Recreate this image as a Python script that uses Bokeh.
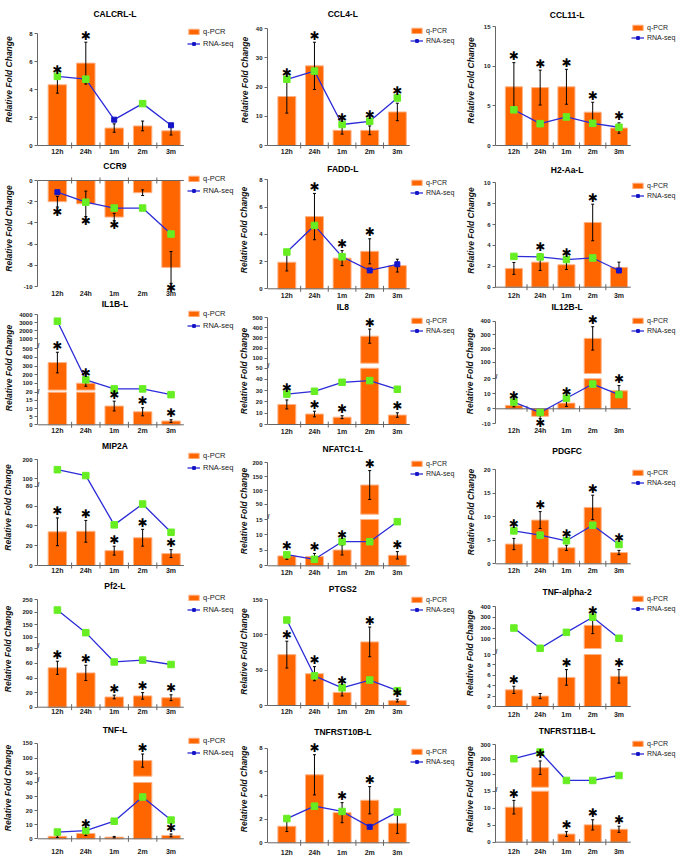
import math
from bokeh.plotting import figure
from bokeh.layouts import row, column
from bokeh.models import (Range1d, FixedTicker, Legend, LegendItem, Label, ColumnDataSource)
from bokeh.embed import file_html
from bokeh.resources import INLINE
from bokeh.core.properties import value

# ---------------- data ----------------
TIMES = ["12h", "24h", "1m", "2m", "3m"]

CALCRL_L_QPCR = [4.35, 5.9, 1.25, 1.4, 1.05]
CALCRL_L_SD = [0.6, 1.5, 0.3, 0.35, 0.3]
CALCRL_L_RNA = [4.95, 4.75, 1.85, 3.0, 1.45]
CALCRL_L_SIG = [1, 1, 0, 1, 0]
CALCRL_L_STAR = [1, 1, 0, 0, 0]
CALCRL_L_YTICKS = [0, 2, 4, 6, 8]

CCL4_L_QPCR = [16.8, 27.3, 5.2, 5.2, 11.5]
CCL4_L_SD = [5.7, 8.1, 1.3, 1.5, 3.0]
CCL4_L_RNA = [22.7, 25.5, 7.2, 8.3, 16.3]
CCL4_L_SIG = [1, 1, 1, 1, 1]
CCL4_L_STAR = [1, 1, 1, 1, 1]
CCL4_L_YTICKS = [0, 10, 20, 30, 40]

CCL11_L_QPCR = [7.4, 7.3, 7.4, 4.2, 2.2]
CCL11_L_SD = [3.05, 2.2, 2.2, 1.25, 0.65]
CCL11_L_RNA = [4.5, 2.75, 3.6, 2.8, 2.3]
CCL11_L_SIG = [1, 1, 1, 1, 1]
CCL11_L_STAR = [1, 1, 1, 1, 1]
CCL11_L_YTICKS = [0, 5, 10, 15]

CCR9_QPCR = [-2.0, -2.2, -3.45, -1.15, -8.2]
CCR9_SD = [0.5, 1.2, 0.35, 0.27, 1.5]
CCR9_RNA = [-1.1, -2.05, -2.6, -2.6, -5.05]
CCR9_SIG = [0, 1, 1, 1, 1]
CCR9_STAR = [1, 1, 1, 0, 1]
CCR9_YTICKS = [-10, -8, -6, -4, -2, 0]

FADD_L_QPCR = [1.95, 5.3, 2.25, 2.75, 1.7]
FADD_L_SD = [0.64, 1.7, 0.55, 0.92, 0.47]
FADD_L_RNA = [2.7, 4.65, 2.35, 1.35, 1.8]
FADD_L_SIG = [1, 1, 1, 0, 0]
FADD_L_STAR = [0, 1, 1, 1, 0]
FADD_L_YTICKS = [0, 2, 4, 6, 8]

H2_AA_L_QPCR = [1.8, 2.4, 2.15, 6.2, 1.9]
H2_AA_L_SD = [0.57, 0.8, 0.45, 1.75, 0.5]
H2_AA_L_RNA = [2.95, 2.9, 2.65, 2.8, 1.6]
H2_AA_L_SIG = [1, 1, 1, 1, 0]
H2_AA_L_STAR = [0, 1, 1, 1, 0]
H2_AA_L_YTICKS = [0, 2, 4, 6, 8, 10]

IL1B_L_QPCR = [340, 100, 11.5, 8.0, 2.3]
IL1B_L_SD = [120, 35, 3.0, 2.5, 0.8]
IL1B_L_RNA = [3200, 140, 34, 34, 18.5]
IL1B_L_SIG = [1, 1, 1, 1, 1]
IL1B_L_STAR = [1, 1, 1, 1, 1]
IL1B_L_YTICKS = [0, 5, 10, 15, 20, 100, 200, 300, 400, 500, 1000, 2000, 3000, 4000]

IL8_QPCR = [17.8, 9.3, 6.5, 318, 8.4]
IL8_SD = [4.0, 2.5, 1.3, 70, 2.0]
IL8_RNA = [27.0, 29.5, 37.5, 39.0, 31.3]
IL8_SIG = [1, 1, 1, 1, 1]
IL8_STAR = [1, 1, 1, 1, 1]
IL8_YTICKS = [0, 10, 20, 30, 40, 50, 100, 200, 300, 400, 500]

IL12B_L_QPCR = [2.3, -5.0, 3.8, 275, 12.0]
IL12B_L_SD = [1.0, 1.5, 2.2, 85, 3.5]
IL12B_L_RNA = [4.5, -2.5, 7.0, 16.5, 9.5]
IL12B_L_SIG = [1, 1, 1, 1, 1]
IL12B_L_STAR = [1, 1, 1, 1, 1]
IL12B_L_YTICKS = [-10, 0, 10, 20, 100, 200, 300, 400]

MIP2A_QPCR = [34, 34.5, 15, 28, 12]
MIP2A_SD = [14, 11, 4.5, 8.5, 4]
MIP2A_RNA = [148, 117, 41, 62, 33.5]
MIP2A_SIG = [1, 1, 1, 1, 1]
MIP2A_STAR = [1, 1, 1, 1, 1]
MIP2A_YTICKS = [0, 20, 40, 60, 80, 100, 200]

NFATC1_L_QPCR = [3.2, 3.0, 5.1, 120, 3.4]
NFATC1_L_SD = [1.1, 1.0, 1.6, 52, 1.2]
NFATC1_L_RNA = [3.6, 2.1, 7.8, 7.8, 14.3]
NFATC1_L_SIG = [1, 1, 1, 1, 1]
NFATC1_L_STAR = [1, 1, 1, 1, 1]
NFATC1_L_YTICKS = [0, 5, 10, 15, 50, 100, 150, 200]

PDGFC_QPCR = [4.2, 9.3, 3.4, 12.0, 2.4]
PDGFC_SD = [1.2, 1.8, 0.55, 2.6, 0.45]
PDGFC_RNA = [7.0, 6.1, 4.9, 8.2, 4.1]
PDGFC_SIG = [1, 1, 1, 1, 1]
PDGFC_STAR = [1, 1, 1, 1, 1]
PDGFC_YTICKS = [0, 5, 10, 15, 20]

PF2_L_QPCR = [54, 47, 14, 15.5, 13]
PF2_L_SD = [9, 10.5, 2.5, 4.5, 4]
PF2_L_RNA = [208, 118, 62, 64.5, 58.5]
PF2_L_SIG = [1, 1, 1, 1, 1]
PF2_L_STAR = [1, 1, 1, 1, 1]
PF2_L_YTICKS = [0, 20, 40, 60, 80, 100, 150, 200, 250]

PTGS2_QPCR = [72, 45, 18.5, 90, 7]
PTGS2_SD = [19, 10, 5, 21, 2]
PTGS2_RNA = [121, 42, 25, 36, 21]
PTGS2_SIG = [1, 1, 1, 1, 1]
PTGS2_STAR = [1, 1, 1, 1, 1]
PTGS2_YTICKS = [0, 50, 100, 150]

TNF_ALPHA_2_QPCR = [3.2, 2.0, 5.6, 225, 5.8]
TNF_ALPHA_2_SD = [0.7, 0.5, 1.5, 77, 1.3]
TNF_ALPHA_2_RNA = [200, 12, 160, 300, 105]
TNF_ALPHA_2_SIG = [1, 1, 1, 1, 1]
TNF_ALPHA_2_STAR = [1, 0, 1, 1, 1]
TNF_ALPHA_2_YTICKS = [0, 2, 4, 6, 8, 10, 100, 200, 300, 400]

TNF_L_QPCR = [1.8, 3.8, 1.2, 92, 2.4]
TNF_L_SD = [0.8, 1.5, 0.5, 22, 1.0]
TNF_L_RNA = [4.8, 5.8, 12.5, 29.7, 13.3]
TNF_L_SIG = [1, 1, 1, 1, 1]
TNF_L_STAR = [0, 1, 0, 1, 1]
TNF_L_YTICKS = [0, 10, 20, 30, 40, 50, 100, 150]

TNFRST10B_L_QPCR = [1.4, 5.75, 2.55, 3.6, 1.65]
TNFRST10B_L_SD = [0.45, 1.7, 0.85, 1.15, 0.85]
TNFRST10B_L_RNA = [2.05, 3.1, 2.65, 1.35, 2.6]
TNFRST10B_L_SIG = [1, 1, 1, 0, 1]
TNFRST10B_L_STAR = [0, 1, 1, 1, 0]
TNFRST10B_L_YTICKS = [0, 2, 4, 6, 8]

TNFRST11B_L_QPCR = [10.3, 145, 2.4, 5.1, 3.8]
TNFRST11B_L_SD = [2.0, 45, 0.7, 1.5, 0.9]
TNFRST11B_L_RNA = [205, 250, 60, 60, 93]
TNFRST11B_L_SIG = [1, 1, 1, 1, 1]
TNFRST11B_L_STAR = [1, 1, 1, 1, 1]
TNFRST11B_L_YTICKS = [0, 5, 10, 15, 100, 200, 300]

# ---------------- layout / style ----------------
ORANGE = "#FF6600"
BAR_EDGE = "#FFB488"
GREEN = "#66EE22"
BLUE_PT = "#1414C8"
LINE_BLUE = "#2B2BD8"
AXIS = "#666666"
FONT = "Liberation Sans"

COL_X = [0, 236, 462]
COL_W = [236, 226, 223]
FRAME_L = [32, 266, 494]
FRAME_R = [182, 409, 630]
YLAB_X = [6.5, 246, 472]
LEG_FONT = ["7.5px", "7px", "7px"]
BOUNDS = [[0, 158, 298, 437, 577, 720, 855],
          [0, 159, 300, 441, 580, 722, 855],
          [0, 160, 300, 441, 582, 723, 855]]
X0, X1 = 0.3, 5.45
STAR_OFF = 6.5
STAR_OFF_NEG = 4.5

# name, q-PCR, sd, RNA-seq, RNA point significant, star, y ticks,
# y segments (value0, value1, px0, px1), column, row, (title y, top tick y, bottom y, label y, legend top y)
PANELS = [
    ("CALCRL-L", CALCRL_L_QPCR, CALCRL_L_SD, CALCRL_L_RNA, CALCRL_L_SIG, CALCRL_L_STAR, CALCRL_L_YTICKS,
     [(0, 8, 0, 111.7)], 0, 0, (13, 33.3, 145, 151, 31)),
    ("CCR9", CCR9_QPCR, CCR9_SD, CCR9_RNA, CCR9_SIG, CCR9_STAR, CCR9_YTICKS,
     [(-10, 0, 0, 106)], 0, 1, (165, 180, 286, 293, 178)),
    ("IL1B-L", IL1B_L_QPCR, IL1B_L_SD, IL1B_L_RNA, IL1B_L_SIG, IL1B_L_STAR, IL1B_L_YTICKS,
     [(0, 20, 0, 32.6), (20, 500, 34.7, 76), (500, 4000, 82, 110)], 0, 2, (303, 314.3, 424.3, 430, 313)),
    ("MIP2A", MIP2A_QPCR, MIP2A_SD, MIP2A_RNA, MIP2A_SIG, MIP2A_STAR, MIP2A_YTICKS,
     [(0, 80, 0, 79.3), (80, 200, 82.9, 105.7)], 0, 3, (445, 459.3, 565, 570, 455)),
    ("Pf2-L", PF2_L_QPCR, PF2_L_SD, PF2_L_RNA, PF2_L_SIG, PF2_L_STAR, PF2_L_YTICKS,
     [(0, 80, 0, 58.4), (80, 250, 65, 107.7)], 0, 4, (585, 599, 706.7, 711, 597)),
    ("TNF-L", TNF_L_QPCR, TNF_L_SD, TNF_L_RNA, TNF_L_SIG, TNF_L_STAR, TNF_L_YTICKS,
     [(0, 40, 0, 56.3), (40, 150, 62.6, 95.6)], 0, 5, (729.3, 742.7, 838.3, 850.7, 740)),

    ("CCL4-L", CCL4_L_QPCR, CCL4_L_SD, CCL4_L_RNA, CCL4_L_SIG, CCL4_L_STAR, CCL4_L_YTICKS,
     [(0, 40, 0, 116.7)], 1, 0, (13, 28.3, 145, 151, 27)),
    ("FADD-L", FADD_L_QPCR, FADD_L_SD, FADD_L_RNA, FADD_L_SIG, FADD_L_STAR, FADD_L_YTICKS,
     [(0, 8, 0, 109)], 1, 1, (168, 179.3, 288.3, 295, 179)),
    ("IL8", IL8_QPCR, IL8_SD, IL8_RNA, IL8_SIG, IL8_STAR, IL8_YTICKS,
     [(0, 50, 0, 56.3), (50, 500, 61.3, 106.7)], 1, 2, (306, 317.3, 424, 430.7, 317)),
    ("NFATC1-L", NFATC1_L_QPCR, NFATC1_L_SD, NFATC1_L_RNA, NFATC1_L_SIG, NFATC1_L_STAR, NFATC1_L_YTICKS,
     [(0, 15, 0, 46.3), (15, 200, 51.6, 103)], 1, 3, (448.3, 462.3, 565.3, 571.7, 460)),
    ("PTGS2", PTGS2_QPCR, PTGS2_SD, PTGS2_RNA, PTGS2_SIG, PTGS2_STAR, PTGS2_YTICKS,
     [(0, 150, 0, 106)], 1, 4, (588, 599, 705, 711, 596)),
    ("TNFRST10B-L", TNFRST10B_L_QPCR, TNFRST10B_L_SD, TNFRST10B_L_RNA, TNFRST10B_L_SIG, TNFRST10B_L_STAR,
     TNFRST10B_L_YTICKS, [(0, 8, 0, 94.6)], 1, 5, (731, 747.7, 842.3, 852, 748)),

    ("CCL11-L", CCL11_L_QPCR, CCL11_L_SD, CCL11_L_RNA, CCL11_L_SIG, CCL11_L_STAR, CCL11_L_YTICKS,
     [(0, 15, 0, 119)], 2, 0, (14, 26, 145, 151, 24)),
    ("H2-Aa-L", H2_AA_L_QPCR, H2_AA_L_SD, H2_AA_L_RNA, H2_AA_L_SIG, H2_AA_L_STAR, H2_AA_L_YTICKS,
     [(0, 10, 0, 104.4)], 2, 1, (169, 182.3, 286.7, 295, 182)),
    ("IL12B-L", IL12B_L_QPCR, IL12B_L_SD, IL12B_L_RNA, IL12B_L_SIG, IL12B_L_STAR, IL12B_L_YTICKS,
     [(-10, 20, 0, 45), (20, 400, 50.3, 102.6)], 2, 2, (306, 320.7, 423.3, 430, 317)),
    ("PDGFC", PDGFC_QPCR, PDGFC_SD, PDGFC_RNA, PDGFC_SIG, PDGFC_STAR, PDGFC_YTICKS,
     [(0, 20, 0, 94)], 2, 3, (450, 469.3, 563.3, 570, 469)),
    ("TNF-alpha-2", TNF_ALPHA_2_QPCR, TNF_ALPHA_2_SD, TNF_ALPHA_2_RNA, TNF_ALPHA_2_SIG, TNF_ALPHA_2_STAR,
     TNF_ALPHA_2_YTICKS, [(0, 10, 0, 52), (10, 400, 58, 100)], 2, 4, (591.7, 606, 706, 714.3, 595)),
    ("TNFRST11B-L", TNFRST11B_L_QPCR, TNFRST11B_L_SD, TNFRST11B_L_RNA, TNFRST11B_L_SIG, TNFRST11B_L_STAR,
     TNFRST11B_L_YTICKS, [(0, 15, 0, 51), (15, 300, 55, 97.7)], 2, 5, (730, 744, 841.7, 850.7, 740)),
]


def seg_map(s, v):
    v0, v1, d0, d1 = s
    return d0 + (v - v0) * (d1 - d0) / (v1 - v0)


def to_disp(segs, v):
    for s in segs:
        if s[0] <= v <= s[1]:
            return seg_map(s, v)
    if v < segs[0][0]:
        return seg_map(segs[0], v)
    return seg_map(segs[-1], v)


def est_w(s, fs):
    return sum(0.556 if ch.isdigit() else 0.333 for ch in s) * fs


def make_panel(P):
    name, q, sd, rna, sig, star, yticks, segs, c, r, ref = P
    top = BOUNDS[c][r]
    H = BOUNDS[c][r + 1] - top
    W = COL_W[c]
    T, FT, FB, L, LG = ref
    fb_int = FB - top                      # y-axis bottom inside the figure (px)
    ml = FRAME_L[c] - COL_X[c]
    fr_int = FRAME_R[c] - COL_X[c]
    ylo, yhi = segs[0][2], segs[-1][3]
    ylo_ext = ylo - (H - fb_int)
    yhi_ext = ylo + fb_int
    kx = (fr_int - ml) / (X1 - X0)
    x1_ext = X0 + (W - ml) / kx

    p = figure(width=W, height=H, x_range=Range1d(X0, x1_ext), y_range=Range1d(ylo_ext, yhi_ext),
               output_backend="svg", toolbar_location=None, sizing_mode="fixed",
               min_border_left=ml, min_border_right=0, min_border_top=0, min_border_bottom=0)
    p.outline_line_color = None
    p.xgrid.visible = False
    p.ygrid.visible = False
    p.xaxis.visible = False
    p.background_fill_color = "white"
    p.border_fill_color = "white"

    xs = [i + 1 for i in range(len(TIMES))]
    zero_d = to_disp(segs, 0)

    # bars (split at axis breaks)
    bx, bb, bt = [], [], []
    for i, v in enumerate(q):
        lo_v, hi_v = min(0, v), max(0, v)
        for s in segs:
            a = max(lo_v, s[0])
            b = min(hi_v, s[1])
            if b > a:
                bx.append(xs[i])
                bb.append(seg_map(s, a))
                bt.append(seg_map(s, b))
    bars = p.vbar(x="x", bottom="b", top="t", width=0.65,
                  source=ColumnDataSource(dict(x=bx, b=bb, t=bt)),
                  fill_color=ORANGE, line_color=BAR_EDGE, line_width=1)

    # horizontal axis at value 0 with tick marks between the time points
    p.segment(x0=[X0], y0=[zero_d], x1=[X1], y1=[zero_d], line_color=AXIS, line_width=1)
    bxs = [x + 0.5 for x in xs[:-1]]
    p.segment(x0=bxs, y0=[zero_d - 3] * len(bxs), x1=bxs, y1=[zero_d + 3] * len(bxs),
              line_color=AXIS, line_width=1)
    # category labels under the panel
    p.text(x=xs, y=[ylo - (L - FB)] * len(xs), text=TIMES, text_align="center",
           text_baseline="middle", text_font=value(FONT), text_font_style="bold",
           text_font_size="7px", text_color="#222222")

    # error bars
    elo = [to_disp(segs, v - e) for v, e in zip(q, sd)]
    ehi = [to_disp(segs, v + e) for v, e in zip(q, sd)]
    esrc = ColumnDataSource(dict(x=xs, lo=elo, hi=ehi))
    p.segment(x0="x", y0="lo", x1="x", y1="hi", source=esrc, line_color="black", line_width=1)
    p.scatter(x="x", y="hi", source=esrc, marker="dash", size=3, line_color="black", line_width=1)
    p.scatter(x="x", y="lo", source=esrc, marker="dash", size=3, line_color="black", line_width=1)

    # RNA-seq line + points
    rd = [to_disp(segs, v) for v in rna]
    line_r = p.line(xs, rd, line_color=LINE_BLUE, line_width=1.3)
    cols = [GREEN if s_ else BLUE_PT for s_ in sig]
    sizes = [6.5 if s_ else 5.0 for s_ in sig]
    p.scatter(x="x", y="y", size="s", marker="square", fill_color="c", line_color="c",
              source=ColumnDataSource(dict(x=xs, y=rd, c=cols, s=sizes)))
    dummy = p.scatter(x=[-50], y=[-5000], marker="square", size=5, fill_color=BLUE_PT, line_color=BLUE_PT)

    # significance stars
    sx, sy = [], []
    for i, v in enumerate(q):
        if not star[i]:
            continue
        if v >= 0:
            tp = ehi[i]
            a = rd[i] if 0 <= rd[i] - tp < 8 else tp
            sy.append(a + STAR_OFF)
        else:
            bt_ = elo[i]
            a = rd[i] if 0 <= bt_ - rd[i] < 8 else bt_
            sy.append(a - STAR_OFF_NEG)
        sx.append(xs[i])
    p.text(x=sx, y=sy, text=["\u2731"] * len(sx), text_align="center", text_baseline="middle",
           text_font=value("DejaVu Sans"), text_font_size="12px", text_color="black")

    # axis break marks
    for s0, s1 in zip(segs[:-1], segs[1:]):
        p.add_layout(Label(x=X0, y=(s0[3] + s1[2]) / 2, text="//", text_align="center",
                           text_baseline="middle", text_font=FONT, text_font_size="7px",
                           text_font_style="bold", text_color="#444444"))

    # title
    ytitle = ylo + (FB - T)
    p.text(x=[(X0 + X1) / 2 + 0.15], y=[ytitle], text=[name], text_align="center",
           text_baseline="middle", text_font=value(FONT), text_font_style="bold",
           text_font_size="8.5px", text_color="black")

    # y axis
    ya = p.yaxis[0]
    ya.bounds = (ylo, yhi)
    dt = [round(to_disp(segs, t), 3) for t in yticks]
    ya.ticker = FixedTicker(ticks=dt, minor_ticks=[])
    ya.major_label_overrides = {d: str(t) for d, t in zip(dt, yticks)}
    ya.axis_line_color = AXIS
    ya.major_tick_line_color = AXIS
    ya.major_tick_in = 0
    ya.major_tick_out = 3
    ya.minor_tick_line_color = None
    ya.major_label_standoff = 2
    ya.major_label_text_font = FONT
    ya.major_label_text_font_style = "bold"
    ya.major_label_text_font_size = "6px"
    ya.major_label_text_color = "#222222"
    ya.axis_label = "Relative Fold Change"
    ya.axis_label_text_font = FONT
    ya.axis_label_text_font_style = "bold italic"
    ya.axis_label_text_font_size = "8.5px"
    ya.axis_label_text_color = "#111111"
    maxw = max(est_w(str(t), 6) for t in yticks)
    ylab = YLAB_X[c] - COL_X[c]
    ya.axis_label_standoff = max(0, int(round(ml - ylab - 5 - maxw - 4.9)))

    # legend (inside the frame, right of the x-axis end)
    lx = fr_int - ml
    ly_top = H - (LG - top)
    leg = Legend(items=[LegendItem(label="q-PCR", renderers=[bars]),
                        LegendItem(label="RNA-seq", renderers=[line_r, dummy])],
                 location=(lx, ly_top - 17), orientation="vertical", border_line_color=None,
                 background_fill_alpha=0, padding=0, margin=0, spacing=3,
                 glyph_width=13, glyph_height=7, label_height=7, label_standoff=3,
                 label_text_font=FONT, label_text_font_size=LEG_FONT[c], label_text_color="#222222")
    p.add_layout(leg)
    return p


cols = [[], [], []]
for P in PANELS:
    cols[P[8]].append((P[9], make_panel(P)))
layout = row(*[column(*[f for _, f in sorted(cl, key=lambda t: t[0])]) for cl in cols])

open("out.html", "w").write(file_html(layout, INLINE))
